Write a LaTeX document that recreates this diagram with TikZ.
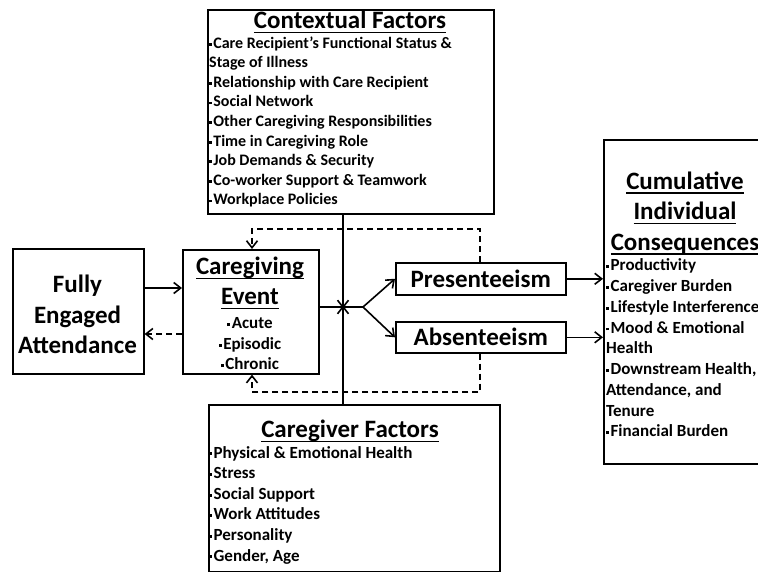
\documentclass[tikz,border=0pt]{standalone}
\usepackage{fontspec}
\setmainfont{Carlito}
\usetikzlibrary{arrows.meta}
\newcommand{\bul}{\raisebox{0.16em}{\rule{0.17em}{0.17em}}\hspace{0.09em}}
\newcommand{\myul}[1]{\setbox0\hbox{#1}\rlap{\rule[-4.5pt]{\wd0}{1.4pt}}\box0}
\begin{document}
\begin{tikzpicture}[x=1pt,y=-1pt,
  box/.style={draw, line width=1.6pt, inner sep=0pt, anchor=north west},
  conn/.style={line width=1.6pt, -{Straight Barb[length=7pt,width=11pt,line width=1.6pt]}},
  dconn/.style={conn, dash pattern=on 6pt off 4pt},
  plain/.style={line width=1.6pt},
  ttl/.style={font=\fontsize{25}{30.5}\selectfont\bfseries, align=center, inner sep=0pt},
  items/.style={font=\fontsize{17}{20.6}\selectfont\bfseries, align=left, inner sep=0pt, anchor=west},
]
\useasboundingbox (0,0) rectangle (758,572);
\clip (0,0) rectangle (758,572);
\fill[white] (0,0) rectangle (758,572);

% boxes
\node[box, minimum width=286pt, minimum height=204pt] (ctx) at (207,9) {};
\node[box, minimum width=131pt, minimum height=125pt] (fea) at (12,248) {};
\node[box, minimum width=136pt, minimum height=124pt] (cge) at (182,249) {};
\node[box, minimum width=170pt, minimum height=32pt] (pres) at (395,262) {};
\node[box, minimum width=170pt, minimum height=31pt] (abs) at (395,321) {};
\node[box, minimum width=172pt, minimum height=324pt] (cum) at (603,139) {};
\node[box, minimum width=291pt, minimum height=167pt] (cgf) at (208,404) {};

% texts
\node[ttl] (ctxT) at (350,22) {\myul{Contextual Factors}};
\node[items, font=\fontsize{16}{19.6}\selectfont\bfseries] (ctxI) at (209,122) {\bul Care Recipient’s Functional Status \&\\Stage of Illness\\\bul Relationship with Care Recipient\\\bul Social Network\\\bul Other Caregiving Responsibilities\\\bul Time in Caregiving Role\\\bul Job Demands \& Security\\\bul Co-worker Support \& Teamwork\\\bul Workplace Policies};

\node[ttl] (feaT) at (77.5,314.5) {Fully\\Engaged\\Attendance};

\node[ttl, font=\fontsize{25}{30}\selectfont\bfseries] (cgeT) at (250,283) {\myul{Caregiving}\\\myul{Event}};
\node[items, align=center, anchor=center, font=\fontsize{17}{20.5}\selectfont\bfseries] (cgeI) at (250,344) {\bul Acute\\\bul Episodic\\\bul Chronic};

\node[ttl] at (pres.center) {Presenteeism};
\node[ttl] at (abs.center) {Absenteeism};

\node[ttl] (cumT) at (685,213) {\myul{Cumulative}\\\myul{Individual}\\\myul{Consequences}};
\node[items, font=\fontsize{17}{20.75}\selectfont\bfseries] (cumI) at (606,348) {\bul Productivity\\\bul Caregiver Burden\\\bul Lifestyle Interference\\\bul Mood \& Emotional\\Health\\\bul Downstream Health,\\Attendance, and\\Tenure\\\bul Financial Burden};

\node[ttl] (cgfT) at (350,431) {\myul{Caregiver Factors}};
\node[items] (cgfI) at (209,505) {\bul Physical \& Emotional Health\\\bul Stress\\\bul Social Support\\\bul Work Attitudes\\\bul Personality\\\bul Gender, Age};

% coordinates
\coordinate (J) at (343,307);
\coordinate (B) at (363,307);
\coordinate (dtR) at (480,229);
\coordinate (dtL) at (252,229);
\coordinate (dbR) at (480,392);
\coordinate (dbL) at (252,392);

% connectors
\draw[conn] (fea.east |- 0,288) -- (cge.west |- 0,288);
\draw[dconn] (cge.west |- 0,334) -- (fea.east |- 0,334);
\draw[plain] (cge.east |- J) -- (B);
\draw[conn] (B) -- (pres.west);
\draw[conn] (B) -- (abs.west);
\draw[conn] (J |- ctx.south) -- ([yshift=-1.5pt]J);
\draw[conn] (J |- cgf.north) -- ([yshift=1.5pt]J);
\draw[conn] (pres.east) -- (pres.east -| cum.west);
\draw[conn] (abs.east) -- (abs.east -| cum.west);
\draw[dconn] (dtR |- pres.north) -- (dtR) -- (dtL) -- (dtL |- cge.north);
\draw[dconn] (dbR |- abs.south) -- (dbR) -- (dbL) -- (dbL |- cge.south);
\end{tikzpicture}
\end{document}
